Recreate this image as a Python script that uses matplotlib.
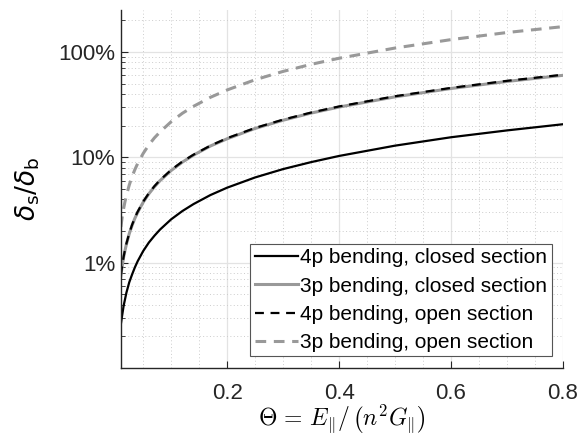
import numpy as np
import matplotlib
matplotlib.use("Agg")
import matplotlib.pyplot as plt
from matplotlib.ticker import FixedLocator, LogLocator, NullFormatter, MultipleLocator

plt.rcParams['font.family'] = ['Liberation Sans', 'DejaVu Sans']

# stiffness ratio Theta and shear/bending deflection ratio in percent
theta = [0.01, 0.0125, 0.015, 0.0175, 0.02, 0.025, 0.03, 0.035, 0.04, 0.05, 0.06, 0.07,
         0.08, 0.1, 0.12, 0.14, 0.17, 0.2, 0.25, 0.3, 0.35, 0.4, 0.5, 0.6, 0.7, 0.8]
closed_4p = [0.26, 0.32, 0.39, 0.45, 0.52, 0.65, 0.77, 0.9, 1.03, 1.29, 1.55, 1.8,
             2.06, 2.58, 3.09, 3.6, 4.38, 5.15, 6.44, 7.73, 9.0, 10.3, 12.9, 15.5, 18.0, 20.6]
closed_3p = [0.75, 0.94, 1.13, 1.31, 1.5, 1.88, 2.25, 2.63, 3.0, 3.75, 4.5, 5.25,
             6.0, 7.5, 9.0, 10.5, 12.8, 15.0, 18.8, 22.5, 26.3, 30.0, 37.5, 45.0, 52.5, 60.0]
open_4p = [0.76, 0.95, 1.14, 1.33, 1.52, 1.9, 2.28, 2.66, 3.04, 3.8, 4.56, 5.32,
           6.08, 7.6, 9.12, 10.6, 12.9, 15.2, 19.0, 22.8, 26.6, 30.4, 38.0, 45.6, 53.2, 60.8]
open_3p = [2.18, 2.73, 3.27, 3.82, 4.36, 5.45, 6.54, 7.63, 8.72, 10.9, 13.1, 15.3,
           17.4, 21.8, 26.2, 30.5, 37.1, 43.6, 54.5, 65.4, 76.3, 87.2, 109, 131, 153, 174]

labels = ["4p bending, closed section", "3p bending, closed section",
          "4p bending, open section", "3p bending, open section"]
ytick_vals = [1, 10, 100]
ytick_labels = ["1%", "10%", "100%"]
xtick_vals = [0.2, 0.4, 0.6, 0.8]

grey = "#999999"

fig = plt.figure(figsize=(5.81, 4.37), dpi=100)
ax = fig.add_axes([0.208, 0.158, 0.761, 0.819])

ax.plot(theta, closed_4p, color="black", lw=1.6, label=labels[0])
ax.plot(theta, closed_3p, color=grey, lw=2.2, label=labels[1])
ax.plot(theta, open_4p, color="black", lw=1.6, ls=(0, (4, 3)), label=labels[2])
ax.plot(theta, open_3p, color=grey, lw=2.2, ls=(0, (3.5, 2.5)), label=labels[3])

ax.set_yscale("log")
ax.set_xlim(0.01, 0.8)
ax.set_ylim(0.1, 250)

ax.yaxis.set_major_locator(FixedLocator(ytick_vals))
ax.set_yticklabels(ytick_labels)
ax.yaxis.set_minor_locator(LogLocator(base=10, subs=np.arange(2, 10)))
ax.yaxis.set_minor_formatter(NullFormatter())
ax.xaxis.set_major_locator(FixedLocator(xtick_vals))
ax.xaxis.set_minor_locator(MultipleLocator(0.05))

ax.grid(True, which="major", color="#e3e3e3", lw=0.9)
ax.grid(True, which="minor", color="#cccccc", lw=0.7, ls=(0, (1, 2.5)))
ax.set_axisbelow(True)

for side in ("top", "right"):
    ax.spines[side].set_visible(False)
for side in ("left", "bottom"):
    ax.spines[side].set_color("#262626")
    ax.spines[side].set_linewidth(1.0)

ax.tick_params(which="both", direction="in", colors="#262626", labelsize=16)
ax.tick_params(axis="y", pad=4)
ax.tick_params(axis="x", pad=11)
ax.tick_params(which="major", length=5)
ax.tick_params(which="minor", length=3)
ax.tick_params(axis="x", which="minor", length=0)

ax.set_xlabel(r"$\Theta\, =\, E_\|/\,\left(n^2G_\|\right)$", fontsize=17,
              math_fontfamily="cm", labelpad=-1)
ax.set_ylabel(r"$\delta_{\mathsf{s}}/\delta_{\mathsf{b}}$", fontsize=19, labelpad=12)

leg = ax.legend(loc="lower right", fontsize=15, frameon=True, fancybox=False,
                edgecolor="#555555", framealpha=1, handlelength=2.1,
                handletextpad=0.1, borderaxespad=0.55, borderpad=0.2,
                labelspacing=0.45)
leg.get_frame().set_linewidth(0.8)

fig.savefig("out.png", dpi=100)
